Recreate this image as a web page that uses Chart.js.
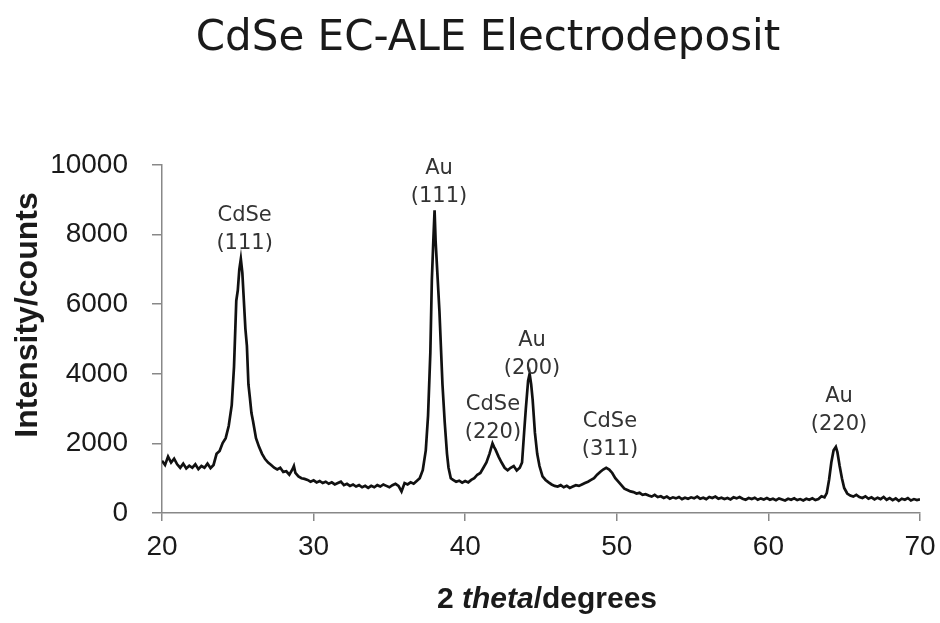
<!DOCTYPE html>
<html lang="en">
<head>
<meta charset="UTF-8">
<title>CdSe EC-ALE Electrodeposit</title>
<script src="https://cdn.jsdelivr.net/npm/chart.js@4.4.1/dist/chart.umd.min.js"></script>
<style>
  html, body { margin: 0; padding: 0; background: #fff; }
</style>
</head>
<body>
<canvas id="xrdChart" width="940" height="623"></canvas>

<script>
// XRD scan: 2-theta (degrees) and intensity (counts)
const twoTheta = [
  20.0, 20.2, 20.4, 20.6, 20.8, 21.0, 21.2, 21.4, 21.6, 21.8, 22.0, 22.2, 22.4, 22.6, 22.8, 23.0, 23.2, 23.4,
  // CdSe (111)
  23.6, 23.8, 24.0, 24.2, 24.4, 24.6, 24.75, 24.9, 25.0, 25.1, 25.2, 25.3, 25.4, 25.5, 25.6, 25.7, 25.8, 25.9, 26.0,
  26.2, 26.4, 26.6, 26.8, 27.0, 27.2, 27.4, 27.6, 27.8, 28.0, 28.2, 28.4, 28.6, 28.7, 28.8,
  29.0, 29.2, 29.4, 29.6, 29.8, 30.0, 30.2, 30.4, 30.6, 30.8, 31.0, 31.2, 31.4, 31.6, 31.8, 32.0, 32.2, 32.4, 32.6, 32.8,
  33.0, 33.2, 33.4, 33.6, 33.8, 34.0, 34.2, 34.4, 34.6, 34.8, 35.0, 35.2, 35.4, 35.6, 35.8, 36.0, 36.2, 36.4, 36.6, 36.8, 37.0,
  // Au (111)
  37.2, 37.4, 37.55, 37.7, 37.8, 37.9, 37.98, 38.05, 38.15, 38.3, 38.5, 38.65, 38.8, 38.9, 39.05,
  39.2, 39.4, 39.6, 39.8, 40.0, 40.2, 40.4, 40.6, 40.8, 41.0, 41.2, 41.4, 41.6, 41.8, 41.9, 42.0, 42.2, 42.4, 42.6, 42.8,
  43.0, 43.2, 43.4, 43.6,
  // Au (200)
  43.75, 43.9, 44.0, 44.15, 44.25, 44.35, 44.45, 44.6, 44.75, 44.9, 45.1,
  45.3, 45.5, 45.7, 45.9, 46.1, 46.3, 46.5, 46.7, 46.9, 47.1, 47.3, 47.5, 47.7, 47.9, 48.1, 48.3, 48.5, 48.7, 48.9,
  49.1, 49.3, 49.5, 49.7, 49.9, 50.1, 50.3, 50.5, 50.7, 50.9, 51.1, 51.3, 51.5, 51.7, 51.9,
  52.1, 52.3, 52.5, 52.7, 52.9, 53.1, 53.3, 53.5, 53.7, 53.9, 54.1, 54.3, 54.5, 54.7, 54.9, 55.1, 55.3, 55.5, 55.7, 55.9,
  56.1, 56.3, 56.5, 56.7, 56.9, 57.1, 57.3, 57.5, 57.7, 57.9, 58.1, 58.3, 58.5, 58.7, 58.9, 59.1, 59.3, 59.5, 59.7, 59.9,
  60.1, 60.3, 60.5, 60.7, 60.9, 61.1, 61.3, 61.5, 61.7, 61.9, 62.1, 62.3, 62.5, 62.7, 62.9, 63.1, 63.3, 63.5,
  // Au (220)
  63.7, 63.85, 64.0, 64.15, 64.3, 64.45, 64.55, 64.7, 64.85, 65.0,
  65.2, 65.4, 65.6, 65.8, 66.0, 66.2, 66.4, 66.6, 66.8, 67.0, 67.2, 67.4, 67.6, 67.8, 68.0, 68.2, 68.4, 68.6, 68.8, 69.0,
  69.2, 69.4, 69.6, 69.8, 70.0
];
const counts = [
  1500, 1380, 1620, 1450, 1560, 1400, 1300, 1420, 1280, 1360, 1300, 1400, 1260, 1350, 1300, 1420, 1290, 1380,
  1700, 1780, 2010, 2150, 2500, 3100, 4200, 6100, 6400, 7000, 7300, 6900, 6100, 5300, 4800, 3700, 3300, 2870, 2650,
  2150, 1900, 1700, 1550, 1450, 1380, 1300, 1250, 1300, 1180, 1200, 1100, 1250, 1350, 1150,
  1050, 1000, 980, 950, 900, 940, 880, 920, 860, 900, 840, 880, 820, 860, 900, 800, 840, 780, 820, 760,
  800, 740, 780, 720, 780, 740, 800, 760, 820, 780, 740, 800, 840, 780, 620, 860, 820, 880, 840, 920, 1000,
  1230, 1800, 2800, 4600, 6700, 7850, 8700, 7800, 7000, 5800, 3700, 2600, 1700, 1300, 1000,
  950, 900, 930, 870, 920, 880, 950, 1000, 1100, 1150, 1300, 1450, 1700, 2000, 1900, 1820, 1620, 1450, 1300, 1230,
  1300, 1350, 1220, 1300,
  1450, 2400, 3000, 3800, 4000, 3700, 3250, 2300, 1700, 1350, 1050,
  950, 880, 820, 780, 760, 800, 740, 780, 720, 760, 800, 780, 820, 860, 900, 950, 1000, 1100, 1180,
  1250, 1300, 1250, 1150, 1000, 900, 800, 700, 660, 620, 600, 560, 580, 520, 540,
  500, 470, 520, 460, 480, 430, 470, 410, 450, 420, 460, 400, 440, 410, 450, 420, 470, 410, 440, 400,
  460, 430, 470, 410, 440, 400, 430, 390, 450, 420, 460, 410, 380, 430, 400, 440, 380, 420, 390, 430,
  380, 410, 370, 420, 390, 360, 410, 380, 420, 370, 400, 360, 410, 380, 420, 370, 400, 480,
  450, 570, 950, 1450, 1800, 1900, 1750, 1350, 1000, 720,
  560, 500, 470, 520, 460, 430, 480, 410, 450, 390, 440, 400, 460, 380, 430, 370, 420, 350, 410, 380,
  430, 360, 400, 370, 390
];

const xTicks = [20, 30, 40, 50, 60, 70];
const yTicks = [0, 2000, 4000, 6000, 8000, 10000];

// peak names, anchored at (2-theta, counts) of the first text line
const peakLabels = [
  { name: 'CdSe', hkl: '(111)', at: [25.45, 8400] },
  { name: 'Au',   hkl: '(111)', at: [38.27, 9730] },
  { name: 'CdSe', hkl: '(220)', at: [41.83, 2970] },
  { name: 'Au',   hkl: '(200)', at: [44.41, 4800] },
  { name: 'CdSe', hkl: '(311)', at: [49.55, 2460] },
  { name: 'Au',   hkl: '(220)', at: [64.66, 3180] }
];

const chartTitle = 'CdSe EC-ALE Electrodeposit';

if (twoTheta.length !== counts.length) {
  console.error('length mismatch', twoTheta.length, counts.length);
}

// title, axis titles and the peak names
const extraText = {
  id: 'extraText',
  afterDraw(chart) {
    const ctx = chart.ctx;
    const xs = chart.scales.x, ys = chart.scales.y;
    ctx.save();
    ctx.textBaseline = 'alphabetic';
    ctx.textAlign = 'center';

    ctx.fillStyle = '#1a1a1a';
    ctx.font = '42px "DejaVu Sans"';
    ctx.fillText(chartTitle, 488, 50);

    ctx.fillStyle = '#333';
    ctx.font = '21px "DejaVu Sans"';
    peakLabels.forEach(p => {
      const px = xs.getPixelForValue(p.at[0]);
      const py = ys.getPixelForValue(p.at[1]);
      ctx.fillText(p.name, px, py);
      ctx.fillText(p.hkl, px, py + 28);
    });

    // x title: "2 theta/degrees" with theta in italics
    ctx.fillStyle = '#1a1a1a';
    const parts = [
      ['2 ', 'bold 30px "Liberation Sans"'],
      ['theta', 'italic bold 30px "Liberation Sans"'],
      ['/degrees', 'bold 30px "Liberation Sans"']
    ];
    let total = 0;
    parts.forEach(([t, f]) => { ctx.font = f; total += ctx.measureText(t).width; });
    let x = 547 - total / 2;
    ctx.textAlign = 'left';
    parts.forEach(([t, f]) => {
      ctx.font = f;
      ctx.fillText(t, x, 608);
      x += ctx.measureText(t).width;
    });

    // y title
    ctx.textAlign = 'center';
    ctx.font = 'bold 32px "Liberation Sans"';
    ctx.translate(37, 315);
    ctx.rotate(-Math.PI / 2);
    ctx.fillText('Intensity/counts', 0, 0);
    ctx.restore();
  }
};

const points = twoTheta.map((t, i) => ({ x: t, y: counts[i] }));
const ctx = document.getElementById('xrdChart').getContext('2d');

new Chart(ctx, {
  type: 'line',
  data: {
    datasets: [{
      data: points,
      borderColor: '#111',
      borderWidth: 2.7,
      pointRadius: 0,
      tension: 0,
      fill: false
    }]
  },
  options: {
    responsive: false,
    animation: false,
    layout: { padding: { top: 165, right: 20, bottom: 0, left: 0 } },
    plugins: {
      legend: { display: false },
      tooltip: { enabled: false },
      title: { display: false }
    },
    scales: {
      x: {
        type: 'linear',
        min: 20,
        max: 70,
        afterBuildTicks: s => { s.ticks = xTicks.map(v => ({ value: v })); },
        afterFit: s => { s.height = 110; s.paddingLeft = 0; s.paddingRight = 0; },
        grid: { drawOnChartArea: false, drawTicks: true, tickLength: 8, color: '#888', lineWidth: 1.5 },
        border: { display: true, color: '#888', width: 1.5 },
        ticks: {
          color: '#1a1a1a',
          padding: 9,
          maxRotation: 0,
          callback: v => String(v),
          font: { family: 'Liberation Sans', size: 28 }
        }
      },
      y: {
        min: 0,
        max: 10000,
        afterBuildTicks: s => { s.ticks = yTicks.map(v => ({ value: v })); },
        afterFit: s => { s.width = 162; s.paddingTop = 0; s.paddingBottom = 0; },
        grid: { drawOnChartArea: false, drawTicks: true, tickLength: 10, color: '#888', lineWidth: 1.5 },
        border: { display: true, color: '#888', width: 1.5 },
        ticks: {
          color: '#1a1a1a',
          padding: 24,
          callback: v => String(v),
          font: { family: 'Liberation Sans', size: 28 }
        }
      }
    }
  },
  plugins: [extraText]
});
</script>
</body>
</html>
